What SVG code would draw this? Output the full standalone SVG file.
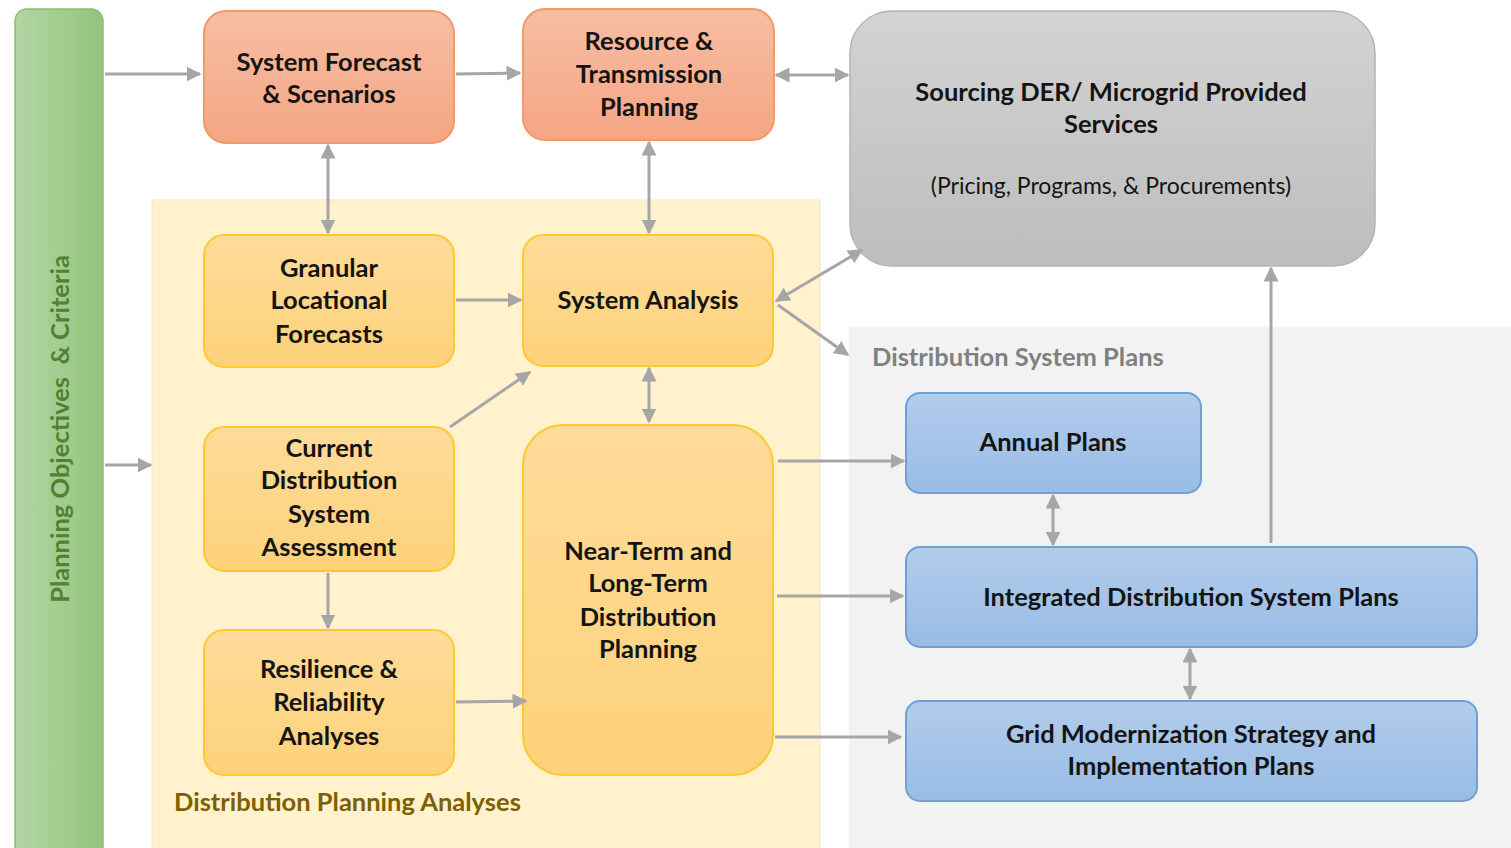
<svg xmlns="http://www.w3.org/2000/svg" width="1511" height="848" viewBox="0 0 1511 848">
<style>
.t{font-family:Lato,"Open Sans","Liberation Sans",sans-serif;font-weight:bold;font-size:25.5px;fill:#141414;text-anchor:middle}
.r{font-weight:normal;font-size:23px}
.c{fill:none;stroke:#a6a6a6;stroke-width:3}
.or{fill:url(#gOr);stroke:#f19a68;stroke-width:2}
.ye{fill:url(#gYe);stroke:#ffc832;stroke-width:2}
.bl{fill:url(#gBl);stroke:#6f9fd6;stroke-width:2}
</style>
<defs>
<linearGradient id="gGr" x1="0" y1="0" x2="1" y2="0"><stop offset="0" stop-color="#b3d5a3"/><stop offset="1" stop-color="#93c47d"/></linearGradient>
<linearGradient id="gOr" x1="0" y1="0" x2="0" y2="1"><stop offset="0" stop-color="#f7bea3"/><stop offset="1" stop-color="#f4a584"/></linearGradient>
<linearGradient id="gYe" x1="0" y1="0" x2="0" y2="1"><stop offset="0" stop-color="#fedb99"/><stop offset="1" stop-color="#fdd27a"/></linearGradient>
<linearGradient id="gBl" x1="0" y1="0" x2="0" y2="1"><stop offset="0" stop-color="#b2cceb"/><stop offset="1" stop-color="#98bce5"/></linearGradient>
<linearGradient id="gGy" x1="0" y1="0" x2="0" y2="1"><stop offset="0" stop-color="#d3d3d3"/><stop offset="1" stop-color="#bdbdbd"/></linearGradient>
<marker id="a" viewBox="0 0 10 10" refX="9" refY="5" markerWidth="15" markerHeight="15" markerUnits="userSpaceOnUse" orient="auto-start-reverse"><path d="M0,0 L10,5 L0,10 z" fill="#a6a6a6"/></marker>
</defs>

<g id="bg-analyses">
<rect x="152" y="200" width="668" height="660" fill="#fff2cc" stroke="#f0e6cc" stroke-width="1"/>
<text class="t" x="174" y="811" style="text-anchor:start;fill:#7f6000">Distribution Planning Analyses</text>
</g>
<g id="bg-plans">
<rect x="849" y="327" width="670" height="530" fill="#f2f2f2"/>
<text class="t" x="872" y="366" style="text-anchor:start;fill:#808080">Distribution System Plans</text>
</g>

<g id="objectives">
<rect x="15" y="9" width="88" height="850" rx="12" fill="url(#gGr)" stroke="#8cbf72" stroke-width="1.5"/>
<text class="t" transform="translate(69,429) rotate(-90)" style="fill:#4f8232" xml:space="preserve">Planning Objectives  &amp; Criteria</text>
</g>

<g id="forecast">
<rect class="or" x="204" y="11" width="250" height="132" rx="22"/>
<text class="t" x="329" y="71">System Forecast</text>
<text class="t" x="329" y="103">&amp; Scenarios</text>
</g>
<g id="resource">
<rect class="or" x="523" y="9" width="251" height="131" rx="22"/>
<text class="t" x="649" y="50">Resource &amp;</text>
<text class="t" x="649" y="83">Transmission</text>
<text class="t" x="649" y="116">Planning</text>
</g>
<g id="sourcing">
<rect x="850" y="11" width="525" height="255" rx="42" fill="url(#gGy)" stroke="#b4b4b4" stroke-width="1.5"/>
<text class="t" x="1111" y="101">Sourcing DER/ Microgrid Provided</text>
<text class="t" x="1111" y="133">Services</text>
<text class="t r" x="1111" y="194">(Pricing, Programs, &amp; Procurements)</text>
</g>
<g id="granular">
<rect class="ye" x="204" y="235" width="250" height="132" rx="20"/>
<text class="t" x="329" y="277">Granular</text>
<text class="t" x="329" y="309">Locational</text>
<text class="t" x="329" y="343">Forecasts</text>
</g>
<g id="analysis">
<rect class="ye" x="523" y="235" width="250" height="131" rx="20"/>
<text class="t" x="648" y="309">System Analysis</text>
</g>
<g id="current">
<rect class="ye" x="204" y="427" width="250" height="144" rx="20"/>
<text class="t" x="329" y="457">Current</text>
<text class="t" x="329" y="489">Distribution</text>
<text class="t" x="329" y="523">System</text>
<text class="t" x="329" y="556">Assessment</text>
</g>
<g id="resilience">
<rect class="ye" x="204" y="630" width="250" height="145" rx="20"/>
<text class="t" x="329" y="678">Resilience &amp;</text>
<text class="t" x="329" y="711">Reliability</text>
<text class="t" x="329" y="745">Analyses</text>
</g>
<g id="nearterm">
<rect class="ye" x="523" y="425" width="250" height="350" rx="40"/>
<text class="t" x="648" y="560">Near-Term and</text>
<text class="t" x="648" y="592">Long-Term</text>
<text class="t" x="648" y="626">Distribution</text>
<text class="t" x="648" y="658">Planning</text>
</g>
<g id="annual">
<rect class="bl" x="906" y="393" width="295" height="100" rx="14"/>
<text class="t" x="1053" y="451">Annual Plans</text>
</g>
<g id="integrated">
<rect class="bl" x="906" y="547" width="571" height="100" rx="14"/>
<text class="t" x="1191" y="606">Integrated Distribution System Plans</text>
</g>
<g id="gridmod">
<rect class="bl" x="906" y="701" width="571" height="100" rx="14"/>
<text class="t" x="1191" y="743">Grid Modernization Strategy and</text>
<text class="t" x="1191" y="775">Implementation Plans</text>
</g>

<g id="connectors">
<path class="c" d="M105,74 H200" marker-end="url(#a)"/>
<path class="c" d="M456,74 L520,73" marker-end="url(#a)"/>
<path class="c" d="M776,75 H848" marker-start="url(#a)" marker-end="url(#a)"/>
<path class="c" d="M328,145 V233" marker-start="url(#a)" marker-end="url(#a)"/>
<path class="c" d="M649,142 V233" marker-start="url(#a)" marker-end="url(#a)"/>
<path class="c" d="M456,300 H521" marker-end="url(#a)"/>
<path class="c" d="M450,427 L530,372" marker-end="url(#a)"/>
<path class="c" d="M649,368 V422" marker-start="url(#a)" marker-end="url(#a)"/>
<path class="c" d="M776,301 L862,250" marker-start="url(#a)" marker-end="url(#a)"/>
<path class="c" d="M778,305 L848,355" marker-end="url(#a)"/>
<path class="c" d="M105,465 H151" marker-end="url(#a)"/>
<path class="c" d="M328,573 V628" marker-end="url(#a)"/>
<path class="c" d="M456,702 L526,701" marker-end="url(#a)"/>
<path class="c" d="M778,461 H904" marker-end="url(#a)"/>
<path class="c" d="M777,596 H903" marker-end="url(#a)"/>
<path class="c" d="M775,737 H901" marker-end="url(#a)"/>
<path class="c" d="M1053,495 V545" marker-start="url(#a)" marker-end="url(#a)"/>
<path class="c" d="M1190,649 V699" marker-start="url(#a)" marker-end="url(#a)"/>
<path class="c" d="M1271,543 V268" marker-end="url(#a)"/>
</g>
</svg>
